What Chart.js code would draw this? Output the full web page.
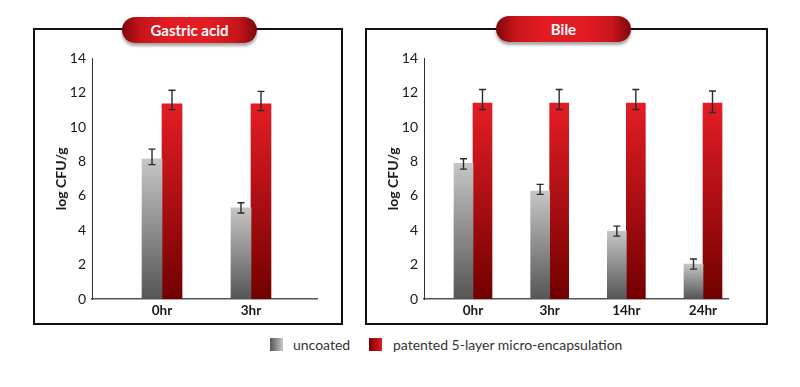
<!DOCTYPE html>
<html>
<head>
<meta charset="utf-8">
<script src="https://cdn.jsdelivr.net/npm/chart.js@4/dist/chart.umd.min.js"></script>
<style>
  html, body { margin:0; padding:0; background:#fff; width:800px; height:387px; overflow:hidden; font-family: Lato, "Open Sans", sans-serif; }
  .panel { position:absolute; box-sizing:border-box; border:2px solid #111; background:#fff; }
  .pill { position:absolute; height:26px; line-height:26px; border-radius:13px; color:#fff; font-weight:bold; font-size:15px; text-align:center;
          background:linear-gradient(to right, #7d070c 0%, #c8141b 14%, #e31b23 35%, #e31b23 65%, #c8141b 86%, #7d070c 100%);
          box-shadow:0 3px 3px rgba(0,0,0,0.35); }
  canvas { position:absolute; }
  .sw { position:absolute; width:13px; height:13px; }
  .lt { position:absolute; font-size:14px; color:#333; line-height:16px; }
</style>
</head>
<body>
<div class="panel" style="left:33px; top:28px; width:310px; height:297px;"></div>
<div class="panel" style="left:365px; top:28px; width:403px; height:297px;"></div>
<div class="pill" style="left:122px; top:17px; width:135px;">Gastric acid</div>
<div class="pill" style="left:496px; top:16px; width:135px;">Bile</div>
<canvas id="c1" width="306" height="278" style="left:34px; top:44px; width:306px; height:278px;"></canvas>
<canvas id="c2" width="400" height="278" style="left:366px; top:44px; width:400px; height:278px;"></canvas>
<div class="sw" style="left:270px; top:338px; background:linear-gradient(to right,#555,#c8c8c8);"></div>
<div class="lt" style="left:293px; top:337px;">uncoated</div>
<div class="sw" style="left:369px; top:338px; background:linear-gradient(to right,#7a0000,#e31b23);"></div>
<div class="lt" style="left:393px; top:337px;">patented 5-layer micro-encapsulation</div>
<script>
// ---- data ----
const seriesNames = ['uncoated', 'patented 5-layer micro-encapsulation'];
const yTicks = [0, 2, 4, 6, 8, 10, 12, 14];

const gastricLabels = ['0hr', '3hr'];
const gastricUncoated = [8.15, 5.3];
const gastricUncoatedHi = [8.72, 5.6];
const gastricUncoatedLo = [7.82, 5.0];
const gastricCoated = [11.36, 11.36];
const gastricCoatedHi = [12.15, 12.08];
const gastricCoatedLo = [11.02, 10.96];

const bileLabels = ['0hr', '3hr', '14hr', '24hr'];
const bileUncoated = [7.9, 6.28, 3.95, 2.03];
const bileUncoatedHi = [8.16, 6.67, 4.24, 2.33];
const bileUncoatedLo = [7.56, 6.09, 3.66, 1.74];
const bileCoated = [11.4, 11.4, 11.4, 11.4];
const bileCoatedHi = [12.19, 12.19, 12.19, 12.1];
const bileCoatedLo = [11.03, 11.03, 11.03, 10.85];

// ---- styling helpers ----
function gradFill(stops) {
  return function(ctx) {
    const chart = ctx.chart;
    if (ctx.type !== 'data' || !chart.chartArea) return stops[0];
    const y = chart.scales.y;
    const top = y.getPixelForValue(ctx.parsed.y);
    const bot = y.getPixelForValue(0);
    const g = chart.ctx.createLinearGradient(0, top, 0, bot);
    g.addColorStop(0, stops[0]);
    g.addColorStop(1, stops[1]);
    return g;
  };
}
const grayFill = gradFill(['#c6c6c6', '#555555']);
const redFill = gradFill(['#e41d25', '#720000']);

const errorBars = {
  id: 'errorBars',
  afterDatasetsDraw(chart) {
    const c = chart.ctx, y = chart.scales.y;
    chart.data.datasets.forEach((ds, di) => {
      const meta = chart.getDatasetMeta(di);
      meta.data.forEach((bar, i) => {
        const yh = y.getPixelForValue(ds.errHi[i]);
        const yl = y.getPixelForValue(ds.errLo[i]);
        const x = bar.x;
        c.save();
        c.strokeStyle = '#2a2a2a';
        c.lineWidth = 1.4;
        c.beginPath();
        c.moveTo(x, yh); c.lineTo(x, yl);
        c.moveTo(x - 3.5, yh); c.lineTo(x + 3.5, yh);
        c.moveTo(x - 3.5, yl); c.lineTo(x + 3.5, yl);
        c.stroke();
        c.restore();
      });
    });
  }
};

function toPoints(vals) { return vals.map((v, i) => ({ x: i + 1, y: v })); }

function makeChart(id, labels, unc, uncHi, uncLo, coat, coatHi, coatLo, xmin, xmax, thick, pad) {
  return new Chart(document.getElementById(id), {
    type: 'bar',
    data: {
      datasets: [
        { label: seriesNames[0], data: toPoints(unc), errHi: uncHi, errLo: uncLo, backgroundColor: grayFill, barThickness: thick, borderWidth: 0 },
        { label: seriesNames[1], data: toPoints(coat), errHi: coatHi, errLo: coatLo, backgroundColor: redFill, barThickness: thick, borderWidth: 0 }
      ]
    },
    options: {
      responsive: false,
      animation: false,
      events: [],
      layout: { padding: pad },
      plugins: { legend: { display: false }, tooltip: { enabled: false } },
      scales: {
        x: {
          type: 'linear', min: xmin, max: xmax, offset: false,
          grid: { display: false, drawTicks: false },
          border: { display: true, color: '#555', width: 1.5 },
          afterBuildTicks: s => { s.ticks = labels.map((l, i) => ({ value: i + 1 })); },
          afterFit: s => { s.height = 23; },
          ticks: {
            autoSkip: false, maxRotation: 0, padding: 4, color: '#1a1a1a',
            font: { family: 'Lato', size: 13.5, weight: 'bold' },
            callback: (v) => labels[Math.round(v) - 1] || ''
          }
        },
        y: {
          min: 0, max: 14,
          grid: { display: false, drawTicks: false },
          border: { display: true, color: '#333', width: 1 },
          afterBuildTicks: s => { s.ticks = yTicks.map(v => ({ value: v })); },
          afterFit: s => { s.width = 58; },
          ticks: { padding: 6, color: '#1a1a1a', font: { family: 'Lato', size: 14 } },
          title: { display: true, text: 'log CFU/g', color: '#1a1a1a', padding: { top: 19, bottom: 0 },
                   font: { family: 'Lato', size: 14, weight: 'bold' } }
        }
      }
    },
    plugins: [errorBars]
  });
}

makeChart('c1', gastricLabels, gastricUncoated, gastricUncoatedHi, gastricUncoatedLo,
          gastricCoated, gastricCoatedHi, gastricCoatedLo, 0.213, 2.742, 20,
          { left: 0, top: 12, right: 23, bottom: 0 });
makeChart('c2', bileLabels, bileUncoated, bileUncoatedHi, bileUncoatedLo,
          bileCoated, bileCoatedHi, bileCoatedLo, 0.361, 4.326, 19,
          { left: 0, top: 14, right: 38, bottom: 0 });
</script>
</body>
</html>
